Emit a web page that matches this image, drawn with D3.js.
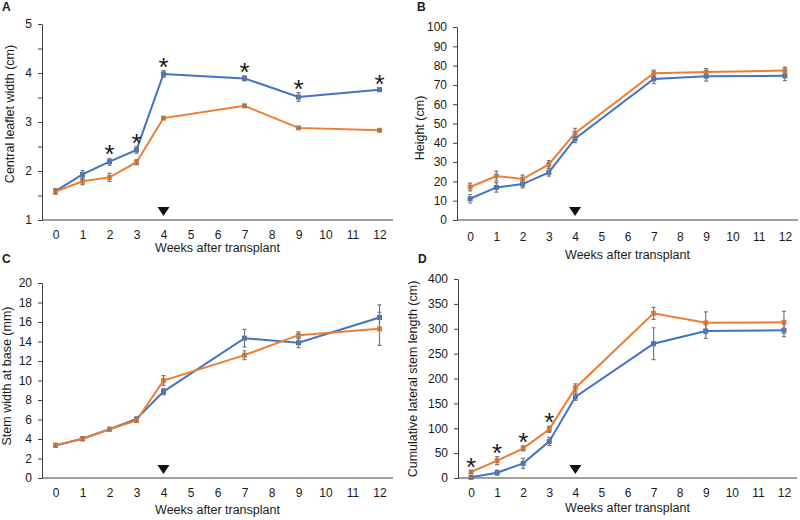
<!DOCTYPE html>
<html lang="en">
<head>
    <meta charset="UTF-8">
    <title>Growth after transplant</title>
    <style>
        body { margin: 0; background: #fff; }
        text { font-family: "Liberation Sans", Arial, sans-serif; fill: #1a1a1a; }
    </style>
    <script src="https://cdn.jsdelivr.net/npm/d3@7"></script>
</head>
<body>
    <script type="module">
        const width = 800;
        const height = 520;

        // Data
        const xTickLabels = ["0", "1", "2", "3", "4", "5", "6", "7", "8", "9", "10", "11", "12"];
        const weeks = [0, 1, 2, 3, 4, 7, 9, 12];
        const transplantWeek = 4;

        // A - central leaflet width (cm)
        const leafTicks = [1, 2, 3, 4, 5];
        const leafMinorTicks = [1.5, 2.5, 3.5, 4.5];
        const leafBlue = [1.59, 1.93, 2.19, 2.43, 3.98, 3.89, 3.51, 3.66];
        const leafBlueErr = [0.05, 0.08, 0.07, 0.07, 0.07, 0.05, 0.09, 0.04];
        const leafOrange = [1.58, 1.79, 1.87, 2.18, 3.08, 3.33, 2.88, 2.83];
        const leafOrangeErr = [0.05, 0.07, 0.08, 0.05, 0.02, 0.03, 0.02, 0.02];
        const leafStars = [2, 3, 4, 7, 9, 12];

        // B - height (cm)
        const heightTicks = [0, 10, 20, 30, 40, 50, 60, 70, 80, 90, 100];
        const heightBlue = [11.0, 16.9, 18.6, 24.7, 42.1, 73.1, 74.5, 74.7];
        const heightBlueErr = [2.2, 2.5, 2.0, 2.0, 2.0, 2.5, 2.5, 2.5];
        const heightOrange = [17.1, 22.8, 21.2, 28.8, 45.0, 76.0, 76.7, 77.4];
        const heightOrangeErr = [2.0, 2.5, 2.0, 2.0, 2.5, 1.7, 1.8, 1.8];

        // C - stem width at base (mm)
        const stemTicks = [0, 2, 4, 6, 8, 10, 12, 14, 16, 18, 20];
        const stemBlue = [3.34, 4.02, 5.0, 6.06, 8.86, 14.34, 13.87, 16.46];
        const stemBlueErr = [0.15, 0.15, 0.15, 0.15, 0.3, 0.9, 0.5, 1.3];
        const stemOrange = [3.37, 4.02, 5.0, 5.9, 10.0, 12.6, 14.65, 15.3];
        const stemOrangeErr = [0.15, 0.15, 0.15, 0.15, 0.5, 0.45, 0.35, 1.7];

        // D - cumulative lateral stem length (cm)
        const lateralTicks = [0, 50, 100, 150, 200, 250, 300, 350, 400];
        const lateralBlue = [1.3, 10.7, 29.4, 73.6, 163, 270, 295.6, 297];
        const lateralBlueErr = [2, 5, 10, 8, 7, 32, 15, 13];
        const lateralOrange = [12, 34.8, 59.5, 97.7, 181, 331, 312, 313];
        const lateralOrangeErr = [3, 8, 5, 6, 8, 12, 22, 22];
        const lateralStars = [0, 1, 2, 3];

        const blue = "#4472c4";
        const orange = "#ed7d31";

        const panels = [
            { letter: "A", left: 42, right: 393, top: 24, bottom: 220, domain: [1, 5], ticks: leafTicks, minor: leafMinorTicks,
              title: "Central leaflet width (cm)", titleX: 14, titleCY: 114, tickY: 239, xTitleY: 252, letterY: 11,
              series: [[leafBlue, leafBlueErr, blue], [leafOrange, leafOrangeErr, orange]],
              stars: leafStars, starSeries: 0 },
            { letter: "B", left: 457, right: 798, top: 27, bottom: 220, domain: [0, 100], ticks: heightTicks, minor: [],
              title: "Height (cm)", titleX: 424, titleCY: 128, tickY: 241, xTitleY: 259, letterY: 11,
              series: [[heightBlue, heightBlueErr, blue], [heightOrange, heightOrangeErr, orange]],
              stars: [], starSeries: 0 },
            { letter: "C", left: 42, right: 393, top: 283, bottom: 478, domain: [0, 20], ticks: stemTicks, minor: [],
              title: "Stem width at base (mm)", titleX: 11, titleCY: 376, tickY: 497, xTitleY: 514, letterY: 263,
              series: [[stemBlue, stemBlueErr, blue], [stemOrange, stemOrangeErr, orange]],
              stars: [], starSeries: 0 },
            { letter: "D", left: 458, right: 797, top: 279, bottom: 478, domain: [0, 400], ticks: lateralTicks, minor: [],
              title: "Cumulative lateral stem length (cm)", titleX: 417, titleCY: 379, tickY: 497, xTitleY: 512, letterY: 263,
              series: [[lateralBlue, lateralBlueErr, blue], [lateralOrange, lateralOrangeErr, orange]],
              stars: lateralStars, starSeries: 1 }
        ];

        const svg = d3.select("body").append("svg").attr("width", width).attr("height", height);

        const drawPanel = (p) => {
            const g = svg.append("g");
            const x = d3.scalePoint().domain(xTickLabels).range([p.left, p.right]).padding(0.5);
            const y = d3.scaleLinear().domain(p.domain).range([p.bottom, p.top]);
            const xw = (w) => x(String(w));

            // minor y ticks (no labels)
            g.append("g")
                .attr("transform", `translate(${p.left},0)`)
                .call(d3.axisLeft(y).tickValues(p.minor).tickSize(4).tickFormat(""))
                .call((a) => a.select(".domain").remove())
                .selectAll(".tick line").attr("stroke", "#404040");

            // y axis
            const yAxis = g.append("g")
                .attr("transform", `translate(${p.left},0)`)
                .call(d3.axisLeft(y).tickValues(p.ticks).tickFormat(d3.format("d")).tickSize(4).tickPadding(6).tickSizeOuter(0));
            yAxis.select(".domain").attr("stroke", "#404040");
            yAxis.selectAll(".tick line").attr("stroke", "#404040");
            yAxis.selectAll(".tick text").attr("font-size", 12).attr("font-family", "Liberation Sans, Arial, sans-serif");

            // x axis (no tick marks)
            const xAxis = g.append("g")
                .attr("transform", `translate(0,${p.bottom})`)
                .call(d3.axisBottom(x).tickSize(0).tickSizeOuter(0).tickPadding(0));
            xAxis.select(".domain").attr("stroke", "#404040").attr("d", `M${p.left},0H${p.right}`);
            xAxis.selectAll(".tick text")
                .attr("font-size", 12).attr("font-family", "Liberation Sans, Arial, sans-serif")
                .attr("dy", null).attr("y", p.tickY - p.bottom);

            // titles
            g.append("text")
                .attr("x", (p.left + p.right) / 2).attr("y", p.xTitleY)
                .attr("text-anchor", "middle").attr("font-size", 12.5)
                .text("Weeks after transplant");
            g.append("text")
                .attr("transform", `translate(${p.titleX},${p.titleCY}) rotate(-90)`)
                .attr("text-anchor", "middle").attr("font-size", 12.5)
                .text(p.title);
            g.append("text")
                .attr("x", p.left - 40).attr("y", p.letterY)
                .attr("font-size", 12).attr("font-weight", "bold")
                .text(p.letter);

            // transplant marker
            const tx = xw(transplantWeek);
            g.append("path")
                .attr("d", `M${tx - 6},${p.bottom - 13}L${tx + 6},${p.bottom - 13}L${tx},${p.bottom - 4}Z`)
                .attr("fill", "#111");

            const line = d3.line().x((d, i) => xw(weeks[i])).y((d) => y(d));

            p.series.forEach(([vals, errs, color]) => {
                g.append("path")
                    .datum(vals)
                    .attr("d", line)
                    .attr("fill", "none")
                    .attr("stroke", color)
                    .attr("stroke-width", 2);
            });

            p.series.forEach(([vals, errs, color]) => {
                g.selectAll(null)
                    .data(vals)
                    .join("rect")
                    .attr("x", (d, i) => xw(weeks[i]) - 2.5)
                    .attr("y", (d) => y(d) - 2.5)
                    .attr("width", 5)
                    .attr("height", 5)
                    .attr("fill", color);

                const eb = g.append("g").attr("stroke", "#7a7a7a").attr("stroke-width", 1.2).attr("fill", "none");
                eb.selectAll("path")
                    .data(vals)
                    .join("path")
                    .attr("d", (d, i) => {
                        const cx = xw(weeks[i]);
                        const y0 = y(d - errs[i]);
                        const y1 = y(d + errs[i]);
                        return `M${cx},${y0}V${y1}M${cx - 2},${y0}H${cx + 2}M${cx - 2},${y1}H${cx + 2}`;
                    });
            });

            // significance stars
            const [sv, se] = p.series[p.starSeries];
            g.selectAll("text.star")
                .data(p.stars)
                .join("text")
                .attr("class", "star")
                .attr("x", (w) => xw(w))
                .attr("y", (w) => {
                    const i = weeks.indexOf(w);
                    return y(sv[i] + se[i]) + 5;
                })
                .attr("text-anchor", "middle")
                .attr("font-size", 26)
                .text("*");
        };

        panels.forEach(drawPanel);
    </script>
</body>
</html>
